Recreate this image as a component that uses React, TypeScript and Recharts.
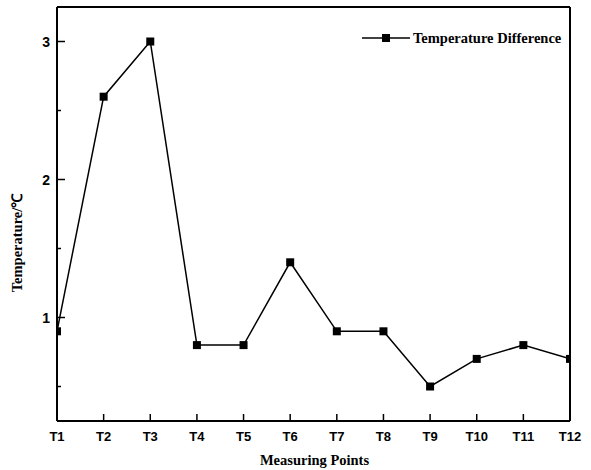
import { LineChart, Line, XAxis, YAxis, Legend } from 'recharts'

const points = ['T1', 'T2', 'T3', 'T4', 'T5', 'T6', 'T7', 'T8', 'T9', 'T10', 'T11', 'T12']
const tempDiff = [0.9, 2.6, 3.0, 0.8, 0.8, 1.4, 0.9, 0.9, 0.5, 0.7, 0.8, 0.7]
const yTicks = [0.5, 1, 1.5, 2, 2.5, 3]

const data = points.map((name, i) => ({ name, diff: tempDiff[i] }))

const SANS = '"Liberation Sans", Arial, sans-serif'
const SERIF = '"Liberation Serif", "Times New Roman", serif'

function YTick({ x, y, payload }: any) {
  const major = Number.isInteger(payload.value)
  return (
    <g>
      <line x1={x} x2={x + (major ? 8 : 4)} y1={y} y2={y} stroke="#000" strokeWidth={1.5} />
      {major && (
        <text x={x - 7} y={y} dy={5} textAnchor="end" fontFamily={SANS} fontWeight="bold" fontSize={14} fill="#000">
          {payload.value}
        </text>
      )}
    </g>
  )
}

function XTick({ x, y, payload }: any) {
  return (
    <g>
      <line x1={x} x2={x} y1={y} y2={y - 7} stroke="#000" strokeWidth={1.5} />
      <text x={x} y={y + 20} textAnchor="middle" fontFamily={SANS} fontWeight="bold" fontSize={13} fill="#000">
        {payload.value}
      </text>
    </g>
  )
}

function XLabel({ viewBox }: any) {
  return (
    <text x={viewBox.x + viewBox.width / 2 + 1} y={465} textAnchor="middle" fontFamily={SERIF} fontWeight="bold" fontSize={14.5} fill="#000">
      Measuring Points
    </text>
  )
}

function YLabel({ viewBox }: any) {
  const cy = viewBox.y + viewBox.height / 2 + 29
  return (
    <text x={22} y={cy} transform={`rotate(-90, 22, ${cy})`} textAnchor="middle" fontFamily={SERIF} fontWeight="bold" fontSize={14.5} fill="#000">
      Temperature/℃
    </text>
  )
}

function SquareDot({ cx, cy }: any) {
  if (cx == null || cy == null) return null
  return <rect x={cx - 4} y={cy - 4} width={8} height={8} fill="#000" />
}

function LegendBox() {
  return (
    <svg width={220} height={20} style={{ display: 'block' }}>
      <line x1={2} x2={50} y1={10} y2={10} stroke="#000" strokeWidth={1.5} />
      <rect x={22} y={6} width={8} height={8} fill="#000" />
      <text x={53} y={14.5} fontFamily={SERIF} fontWeight="bold" fontSize={14.5} fill="#000">
        Temperature Difference
      </text>
    </svg>
  )
}

export default function App() {
  return (
    <div style={{ position: 'absolute', left: 0, top: 0, background: '#fff' }}>
      <LineChart width={591} height={470} data={data} margin={{ top: 6, right: 20, bottom: 0, left: 0 }}>
        <XAxis
          dataKey="name"
          interval={0}
          height={49}
          allowDataOverflow
          tickLine={false}
          tickSize={0}
          tickMargin={0}
          tick={<XTick />}
          axisLine={{ stroke: '#000', strokeWidth: 2 }}
          label={<XLabel />}
        />
        <XAxis xAxisId="top" orientation="top" dataKey="name" height={1} tick={false} tickLine={false} axisLine={{ stroke: '#000', strokeWidth: 2 }} />
        <YAxis
          width={57}
          domain={[0.25, 3.25]}
          ticks={yTicks}
          allowDataOverflow
          tickLine={false}
          tickSize={0}
          tickMargin={0}
          tick={<YTick />}
          axisLine={{ stroke: '#000', strokeWidth: 2 }}
          label={<YLabel />}
        />
        <YAxis yAxisId="right" orientation="right" width={1} domain={[0.25, 3.25]} tick={false} tickLine={false} axisLine={{ stroke: '#000', strokeWidth: 2 }} />
        <Legend
          layout="vertical"
          align="center"
          verticalAlign="middle"
          content={<LegendBox />}
          wrapperStyle={{ left: 360, top: 28, width: 220, height: 20 }}
        />
        <Line
          dataKey="diff"
          name="Temperature Difference"
          type="linear"
          stroke="#000"
          strokeWidth={1.5}
          dot={<SquareDot />}
          activeDot={false}
          isAnimationActive={false}
        />
      </LineChart>
    </div>
  )
}
